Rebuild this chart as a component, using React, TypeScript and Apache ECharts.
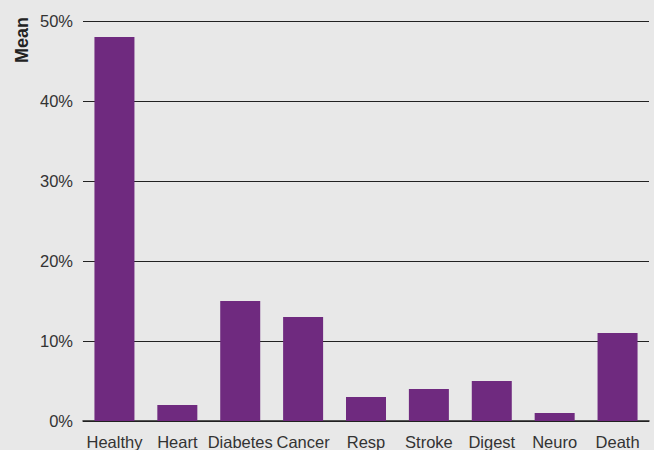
import React, { useEffect, useRef } from "react";
import * as echarts from "echarts";

const categories = ["Healthy", "Heart", "Diabetes", "Cancer", "Resp", "Stroke", "Digest", "Neuro", "Death"];
const meanValues = [48, 2, 15, 13, 3, 4, 5, 1, 11];
const yTicks = [0, 10, 20, 30, 40, 50];

const FONT = "Liberation Sans, Arial, sans-serif";

export default function App() {
  const ref = useRef<HTMLDivElement>(null);
  useEffect(() => {
    document.body.style.margin = "0";
    const chart = echarts.init(ref.current!, undefined, { renderer: "svg" });
    chart.setOption({
      animation: false,
      backgroundColor: "#e8e8e8",
      textStyle: { fontFamily: FONT },
      grid: { left: 83, right: 5, top: 21, bottom: 27, containLabel: false },
      graphic: [
        {
          type: "text",
          x: 22,
          y: 40,
          rotation: Math.PI / 2,
          style: {
            text: "Mean",
            fontSize: 18,
            fontWeight: "bold",
            fill: "#222",
            align: "center",
            verticalAlign: "middle",
            fontFamily: FONT,
          },
        },
        {
          type: "line",
          shape: { x1: 649, y1: 0, x2: 654, y2: 0 },
          style: { stroke: "#222", lineWidth: 1 },
          silent: true,
          invisible: true,
        },
      ],
      xAxis: {
        type: "category",
        data: categories,
        axisTick: { show: false },
        axisLine: { lineStyle: { color: "#222", width: 1.5 } },
        axisLabel: { color: "#333", fontSize: 16.5, margin: 12, interval: 0 },
      },
      yAxis: {
        type: "value",
        min: yTicks[0],
        max: yTicks[yTicks.length - 1],
        interval: 10,
        axisLine: { show: false },
        axisTick: { show: false },
        axisLabel: { color: "#333", fontSize: 16.5, margin: 10, formatter: "{value}%" },
        splitLine: { lineStyle: { color: "#222", width: 1 } },
      },
      series: [
        {
          type: "bar",
          data: meanValues,
          barWidth: 40,
          itemStyle: { color: "#6f2a7f" },
        },
      ],
    });
    return () => chart.dispose();
  }, []);
  return <div ref={ref} style={{ width: 654, height: 450 }} />;
}
